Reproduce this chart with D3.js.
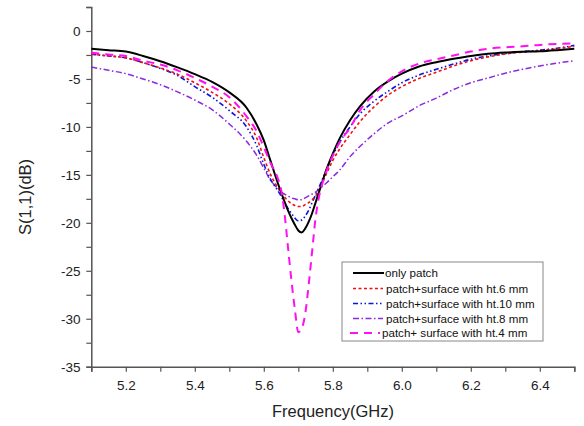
<!DOCTYPE html>
<html><head><meta charset="utf-8">
<script src="https://cdn.jsdelivr.net/npm/d3@7"></script>
<style>
html,body{margin:0;padding:0;background:#fff;}
text{font-family:"Liberation Sans",Arial,sans-serif;}
</style></head>
<body><svg id="c" width="584" height="426"></svg>
<script>
const freq = [5.10,5.15,5.20,5.25,5.30,5.35,5.40,5.45,5.50,5.55,5.58,5.60,5.62,5.64,5.65,5.66,5.67,5.68,5.69,5.70,5.71,5.72,5.73,5.74,5.75,5.76,5.78,5.80,5.82,5.85,5.88,5.92,5.96,6.00,6.05,6.10,6.15,6.20,6.25,6.30,6.35,6.40,6.45,6.50];
const onlyPatch = [-1.85,-2.0,-2.15,-2.6,-3.15,-3.8,-4.5,-5.3,-6.4,-8.0,-9.8,-11.4,-13.6,-15.8,-16.8,-17.8,-18.7,-19.5,-20.2,-20.8,-21.0,-20.6,-19.9,-19.0,-17.9,-16.8,-14.6,-12.8,-11.2,-9.3,-7.8,-6.3,-5.25,-4.45,-3.7,-3.25,-2.9,-2.6,-2.38,-2.25,-2.17,-2.12,-2.0,-1.85];
const ht6 = [-2.43,-2.6,-2.8,-3.3,-3.85,-4.5,-5.4,-6.4,-7.6,-9.4,-11.2,-13.2,-15.0,-16.3,-16.8,-17.3,-17.7,-18.0,-18.2,-18.3,-18.3,-18.1,-17.9,-17.6,-17.2,-16.6,-15.0,-13.5,-12.3,-10.8,-9.4,-7.9,-6.7,-5.8,-4.95,-4.3,-3.65,-3.1,-2.7,-2.4,-2.2,-2.05,-1.85,-1.6];
const ht10 = [-2.43,-2.6,-2.8,-3.3,-3.9,-4.65,-5.8,-6.9,-8.3,-10.0,-12.0,-13.9,-15.5,-16.6,-17.2,-17.9,-18.5,-19.0,-19.5,-19.8,-19.7,-19.3,-18.7,-17.9,-17.1,-16.3,-14.6,-13.0,-11.6,-10.0,-8.6,-7.3,-6.3,-5.4,-4.6,-4.0,-3.45,-2.95,-2.6,-2.35,-2.15,-2.0,-1.8,-1.5];
const ht8 = [-3.76,-4.1,-4.45,-5.0,-5.6,-6.35,-7.2,-8.2,-9.7,-11.5,-13.0,-14.3,-15.6,-16.4,-16.8,-17.0,-17.2,-17.4,-17.5,-17.6,-17.6,-17.4,-17.2,-17.0,-16.8,-16.5,-15.9,-15.2,-14.5,-13.1,-12.0,-10.7,-9.6,-8.85,-7.8,-7.0,-6.1,-5.4,-4.9,-4.4,-4.0,-3.65,-3.35,-3.1];
const ht4 = [-2.26,-2.45,-2.6,-3.1,-3.5,-4.1,-4.9,-5.8,-6.9,-8.9,-10.5,-12.1,-13.8,-15.3,-16.5,-19.0,-22.5,-26.0,-29.0,-31.4,-31.0,-29.5,-26.5,-23.0,-19.5,-17.3,-14.8,-13.0,-11.6,-10.1,-8.2,-6.6,-5.2,-4.2,-3.4,-2.95,-2.55,-2.15,-1.85,-1.7,-1.6,-1.45,-1.35,-1.3];
const seriesNames = ["only patch","patch+surface with ht.6 mm","patch+surface with ht.10 mm","patch+surface with ht.8 mm","patch+ surface with ht.4 mm"];
const xTicks = [5.2,5.4,5.6,5.8,6.0,6.2,6.4];
const yTicks = [-35,-30,-25,-20,-15,-10,-5,0];

const styles = [
  {color:"#000000", width:2, dash:null},
  {color:"#ee1111", width:1.6, dash:"3,2.5"},
  {color:"#0a14dc", width:1.6, dash:"5,2.5,1.5,2.5,1.5,2.5"},
  {color:"#8a2be2", width:1.5, dash:"6,2.5,1.5,2.5"},
  {color:"#ff10f0", width:2, dash:"8,6"}
];
const data = [onlyPatch, ht6, ht10, ht8, ht4];

const svg = d3.select("#c");
const L = 91.3, R = 574.3, T = 7, B = 366.7;
const x = d3.scaleLinear().domain([5.1,6.5]).range([L,R]);
const y = d3.scaleLinear().domain([-35,2.5]).range([B,T]);

const axisColor = "#555";
const gx = svg.append("g").attr("transform",`translate(0,${B})`);
gx.call(d3.axisBottom(x).tickValues(d3.range(5.1,6.51,0.1)).tickSize(5).tickFormat(d => xTicks.some(t=>Math.abs(t-d)<1e-6)? d3.format(".1f")(d):""));
gx.select(".domain").attr("stroke",axisColor).attr("stroke-width",1.5);
gx.selectAll(".tick line").attr("stroke",axisColor).attr("stroke-width",1.2);
gx.selectAll(".tick text").attr("fill","#222").attr("font-size",13.5).attr("dy","1.12em").style("font-family","Liberation Sans, Arial, sans-serif");

const gy = svg.append("g").attr("transform",`translate(${L},0)`);
gy.call(d3.axisLeft(y).tickValues(d3.range(-35,2.6,2.5)).tickSize(5).tickFormat(d => yTicks.includes(d)? String(d):""));
gy.select(".domain").attr("stroke",axisColor).attr("stroke-width",1.5);
gy.selectAll(".tick line").attr("stroke",axisColor).attr("stroke-width",1.2);
gy.selectAll(".tick text").attr("fill","#222").attr("font-size",13.5).attr("dx","-0.2em").style("font-family","Liberation Sans, Arial, sans-serif");

svg.append("text").attr("x",333).attr("y",417).attr("text-anchor","middle").attr("font-size",16.5).attr("fill","#222").text("Frequency(GHz)");
svg.append("text").attr("transform","translate(31,197) rotate(-90)").attr("text-anchor","middle").attr("font-size",16.5).attr("fill","#222").text("S(1,1)(dB)");

const line = d3.line().x((d,i)=>x(freq[i])).y(d=>y(d)).curve(d3.curveMonotoneX);
const order = [3,2,1,0,4];
order.forEach(k=>{
  const s = styles[k];
  svg.append("path").datum(data[k]).attr("d",line).attr("fill","none")
    .attr("stroke",s.color).attr("stroke-width",s.width)
    .attr("stroke-dasharray",s.dash);
});

const lg = svg.append("g");
lg.append("rect").attr("x",342).attr("y",262).attr("width",201).attr("height",79).attr("fill","#fff").attr("stroke","#888").attr("stroke-width",1);
const rowY = [273,288.5,303.5,318.5,333];
const sx0 = [353,353,353,353,350], sx1=[384,383,383,383,380], tx=[385,386,386,386,382];
seriesNames.forEach((n,i)=>{
  const s = styles[i];
  lg.append("line").attr("x1",sx0[i]).attr("x2",sx1[i]).attr("y1",rowY[i]).attr("y2",rowY[i])
    .attr("stroke",s.color).attr("stroke-width",s.width).attr("stroke-dasharray",s.dash);
  lg.append("text").attr("x",tx[i]).attr("y",rowY[i]).attr("dy","0.35em").attr("font-size",11.6).attr("fill","#111").text(n);
});
</script></body></html>
